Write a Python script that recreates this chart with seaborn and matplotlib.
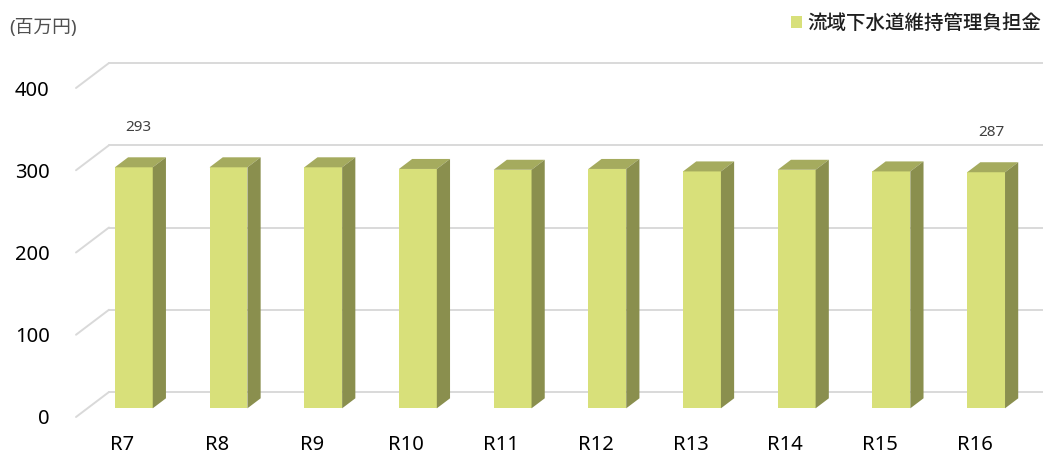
import matplotlib
matplotlib.use("Agg")
import matplotlib.pyplot as plt
from matplotlib.patches import Polygon, Patch
from matplotlib.lines import Line2D
from matplotlib.transforms import ScaledTranslation
import seaborn as sns

# Data
categories = ["R7", "R8", "R9", "R10", "R11", "R12", "R13", "R14", "R15", "R16"]
values = [293, 293, 293, 291, 290, 291, 288, 290, 288, 287]
yticks = [0, 100, 200, 300, 400]
series_name = "流域下水道維持管理負担金"
unit_label = "(百万円)"
labelled = {0: 293, 9: 287}

# Colours
FRONT = "#D8E07A"
TOP = "#A5AB5E"
SIDE = "#8A8F4E"
GRID = "#D9D9D9"

sns.set_theme(style="white")
plt.rcParams["font.family"] = ["Noto Sans", "Noto Sans CJK JP", "DejaVu Sans"]

W, H = 1043, 455
fig = plt.figure(figsize=(W / 100, H / 100), dpi=100)
fig.patch.set_facecolor("white")

# front plane of the pseudo-3D box
left_px, right_px, bottom_px, top_px = 76, 1010, 417, 88
ax = fig.add_axes([left_px / W, (H - bottom_px) / H,
                   (right_px - left_px) / W, (bottom_px - top_px) / H])

sns.barplot(x=categories, y=values, color=FRONT, width=0.4, saturation=1,
            ax=ax, zorder=3)

xmin, xmax = -0.489, 9.374
ax.set_xlim(xmin, xmax)
ax.set_ylim(0, 400)
ax.set_yticks(yticks)
ax.set_xlabel("")
ax.set_ylabel("")
for s in ax.spines.values():
    s.set_visible(False)
ax.tick_params(axis="both", length=0, labelsize=14.5, colors="black")
ax.tick_params(axis="y", pad=19)
ax.tick_params(axis="x", pad=13)
ax.set_facecolor("none")

# pixel -> data unit conversion
px_x = (right_px - left_px) / (xmax - xmin)
px_y = (bottom_px - top_px) / 400.0

# wall depth and bar placement inside it (pixels)
wall_dx, wall_dy = 33, 25
bar_shift_x, bar_shift_y = 11.5, 8.7
bar_dx, bar_dy = 13.2, 10.0

# gridlines: slanted floor-to-wall edge plus horizontal back-wall line
wdx, wdy = wall_dx / px_x, wall_dy / px_y
for v in yticks:
    ax.add_line(Line2D([xmin, xmin + wdx], [v, v + wdy], color=GRID,
                       lw=1.4, zorder=0.5, clip_on=False))
    ax.add_line(Line2D([xmin + wdx, xmax + wdx + 1], [v + wdy, v + wdy],
                       color=GRID, lw=1.4, zorder=0.5, clip_on=False))

shift = ax.transData + ScaledTranslation(bar_shift_x / 100, bar_shift_y / 100,
                                         fig.dpi_scale_trans)
ddx, ddy = bar_dx / px_x, bar_dy / px_y
for p in ax.patches:
    p.set_transform(shift)
    p.set_clip_on(False)
    p.set_edgecolor("none")
    x0, w, h = p.get_x(), p.get_width(), p.get_height()
    top = [(x0, h), (x0 + w, h), (x0 + w + ddx, h + ddy), (x0 + ddx, h + ddy)]
    side = [(x0 + w, 0), (x0 + w, h), (x0 + w + ddx, h + ddy), (x0 + w + ddx, ddy)]
    ax.add_patch(Polygon(top, closed=True, facecolor=TOP, edgecolor="none",
                         transform=shift, zorder=3, clip_on=False))
    ax.add_patch(Polygon(side, closed=True, facecolor=SIDE, edgecolor="none",
                         transform=shift, zorder=3, clip_on=False))

# value labels on first and last bars
for i, v in labelled.items():
    ax.annotate(str(v), xy=(i, v), xytext=(16.5, 48.5),
                textcoords="offset pixels", ha="center", va="center",
                fontsize=11, color="#404040", annotation_clip=False)

# unit label
fig.text(9 / W, 1 - 28 / H, unit_label, ha="left", va="center",
         fontsize=13.5, color="#505050")

# legend
handle = Patch(facecolor=FRONT, edgecolor="none", label=series_name)
fig.legend(handles=[handle], loc="center right",
           bbox_to_anchor=(1041 / W, 1 - 24 / H), frameon=False,
           prop={"size": 14, "weight": "medium"}, labelcolor="#1F1F1F",
           handlelength=0.58, handleheight=0.58, handletextpad=0.25,
           borderpad=0, borderaxespad=0)

fig.savefig("out.png", dpi=100, facecolor="white")
